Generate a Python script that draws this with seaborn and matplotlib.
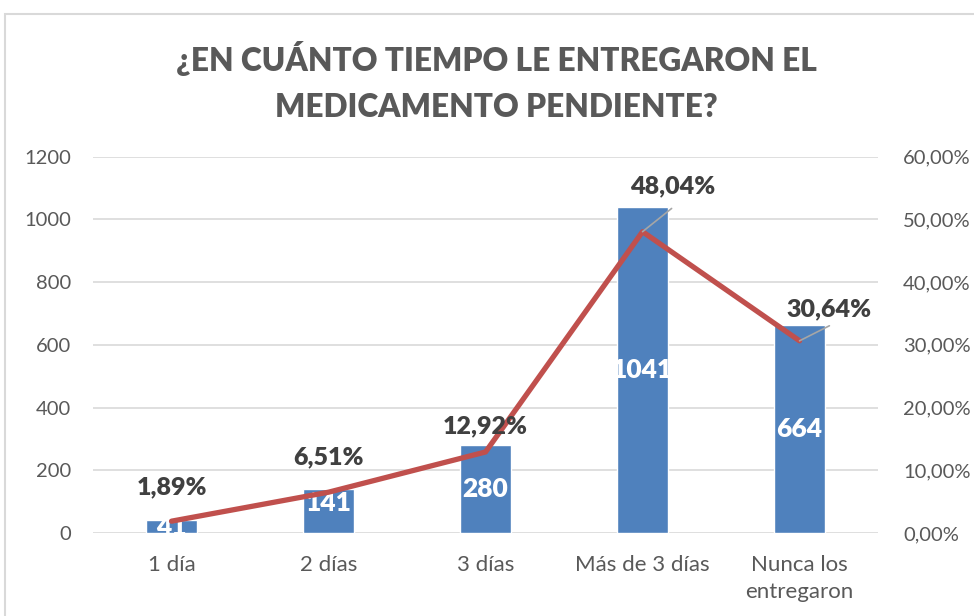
import matplotlib
matplotlib.use('Agg')
import matplotlib.pyplot as plt
import seaborn as sns
from matplotlib.patches import Rectangle
from matplotlib.ticker import FuncFormatter

# Data
categories = ['1 día', '2 días', '3 días', 'Más de 3 días', 'Nunca los\nentregaron']
counts = [41, 141, 280, 1041, 664]
percents = [1.89, 6.51, 12.92, 48.04, 30.64]

sns.set_style('white')
plt.rcParams['font.family'] = ['Lato', 'DejaVu Sans']

grey = '#595959'
bar_color = '#4F81BD'
line_color = '#C0504D'

fig = plt.figure(figsize=(9.74, 6.16), dpi=100)
ax = fig.add_axes([0.0955, 0.1347, 0.806, 0.611])

# Bars (counts, left axis)
sns.barplot(x=categories, y=counts, color=bar_color, width=0.32, saturation=1, ax=ax)
ax.set_ylim(0, 1200)
ax.set_xlim(-0.5, 4.5)
ax.set_yticks(range(0, 1201, 200))
ax.grid(axis='y', color='#D9D9D9', linewidth=1.2)
ax.set_axisbelow(True)
for s in ax.spines.values():
    s.set_visible(False)
ax.tick_params(axis='x', length=0, labelsize=16, colors=grey, pad=16)
ax.tick_params(axis='y', length=0, labelsize=14.5, colors=grey, pad=16)
for lab in ax.get_xticklabels():
    lab.set_linespacing(1.4)
ax.set_xlabel('')
ax.set_ylabel('')

# count labels in the middle of each bar, clipped to the bar
bars = [p for p in ax.patches if isinstance(p, Rectangle)]
for i, v in enumerate(counts):
    y = max(v / 2, 95) if v >= 100 else v / 2
    t = ax.text(i, y, str(v), ha='center', va='center', color='white',
                fontsize=19, fontweight='heavy', zorder=3)
    if i < len(bars):
        t.set_clip_path(bars[i])

# Line (percentages, right axis)
ax2 = ax.twinx()
sns.lineplot(x=list(range(len(categories))), y=percents, color=line_color,
             linewidth=3.8, ax=ax2, sort=False)
ax2.set_ylim(0, 60)
ax2.set_yticks(range(0, 61, 10))
ax2.yaxis.set_major_formatter(FuncFormatter(lambda v, p: f'{v:.2f}%'.replace('.', ',')))
for s in ax2.spines.values():
    s.set_visible(False)
ax2.tick_params(axis='y', length=0, labelsize=14.5, colors=grey, pad=18)
ax2.set_ylabel('')
ax2.set_xlim(-0.5, 4.5)

# percent labels
offsets = [(0, 3.6), (0, 3.8), (0, 2.4), (0.19, 5.4), (0.19, 3.3)]
leaders = [None, None, None, (0.185, 3.7), (0.19, 2.4)]
for i, (p, (dx, dy), ld) in enumerate(zip(percents, offsets, leaders)):
    txt = f'{p:.2f}%'.replace('.', ',')
    ax2.text(i + dx, p + dy, txt, ha='center', va='bottom', color='#404040',
             fontsize=18, fontweight='heavy')
    if ld:
        ax2.plot([i, i + ld[0]], [p, p + ld[1]], color='#A6A6A6', linewidth=1.2)

# Title
fig.text(0.51, 0.868, '¿EN CUÁNTO TIEMPO LE ENTREGARON EL\nMEDICAMENTO PENDIENTE?',
         ha='center', va='center', fontsize=22.8, fontweight='heavy', color=grey,
         linespacing=1.7)

# chart border
fig.patches.append(Rectangle((0.005, -0.1), 1.2, 1.077, transform=fig.transFigure,
                             fill=False, edgecolor='#D9D9D9', linewidth=1.5))

fig.savefig('out.png', dpi=100)
